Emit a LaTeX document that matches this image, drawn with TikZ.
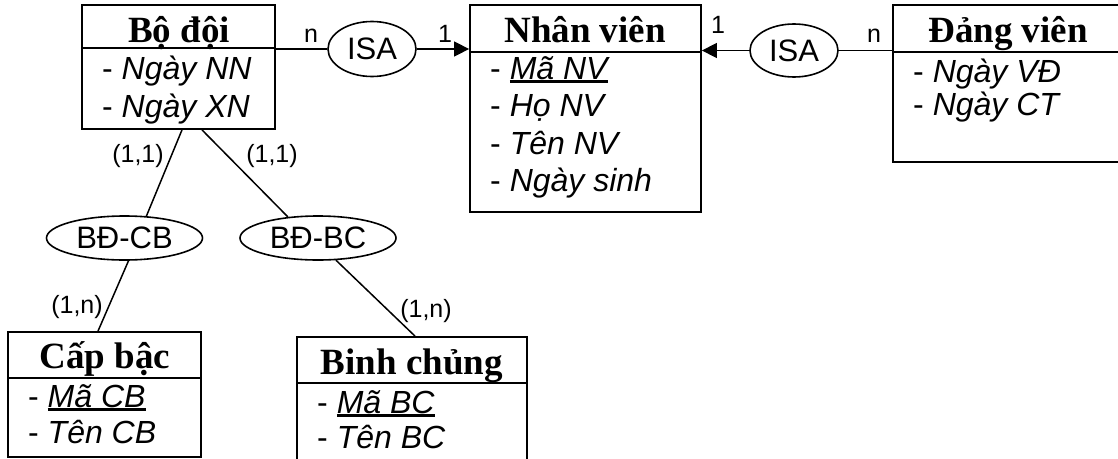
\documentclass[tikz,border=0pt]{standalone}
\usepackage{fontspec}
\setmainfont{Liberation Serif}
\newfontfamily\arialf{Liberation Sans}
\usetikzlibrary{shapes.geometric,arrows.meta,calc}
\newcommand\myul[1]{\setbox0\hbox{#1}\rlap{\rule[-4pt]{\wd0}{2.6pt}}\box0}
\tikzset{
 box/.style={draw, line width=1.8pt, rectangle, inner sep=0pt},
 rel/.style={draw, ellipse, line width=1.6pt, inner sep=0pt, font=\arialf\fontsize{31}{36}\selectfont},
 ttl/.style={font=\bfseries\fontsize{37}{42}\selectfont, inner sep=0pt, anchor=base},
 attr/.style={font=\arialf\fontsize{32}{37}\selectfont, inner sep=0pt, anchor=base west},
 card/.style={font=\arialf\fontsize{25}{30}\selectfont, inner sep=0pt, anchor=base},
 conn/.style={line width=1.5pt},
 tip/.style={-{Triangle[length=15pt,width=15pt]}},
 div/.style={line width=1.8pt}
}
\begin{document}
\begin{tikzpicture}[x=1pt,y=-1pt]
\useasboundingbox (0,0) rectangle (1118,458);
% entity boxes
\node[box, minimum width=193pt, minimum height=124pt] (bd) at (178.5,67) {};
\node[box, minimum width=231pt, minimum height=207pt] (nv) at (585.5,108.5) {};
\node[box, minimum width=231pt, minimum height=157pt] (dv) at (1008.5,83.5) {};
\node[box, minimum width=193pt, minimum height=125pt] (cb) at (104.5,394.5) {};
\node[box, minimum width=230pt, minimum height=133pt] (bc) at (412,403.5) {};
% dividers
\draw[div] (bd.west |- 0,48) -- (bd.east |- 0,48);
\draw[div] (nv.west |- 0,52) -- (nv.east |- 0,52);
\draw[div] (dv.west |- 0,52) -- (dv.east |- 0,52);
\draw[div] (cb.west |- 0,378) -- (cb.east |- 0,378);
\draw[div] (bc.west |- 0,383) -- (bc.east |- 0,383);
% titles
\node[ttl] (bdt) at (179,42) {Bộ đội};
\node[ttl] (nvt) at (585,42) {Nhân viên};
\node[ttl] (dvt) at (1008,42) {Đảng viên};
\node[ttl] (cbt) at (105,368) {Cấp bậc};
\node[ttl] (bct) at (412,374) {Binh chủng};
% attributes
\node[attr] (bda1) at (102,79) {- \textit{Ngày NN}};
\node[attr] (bda2) at (102,117) {- \textit{Ngày XN}};
\node[attr] (nva1) at (490,79) {- \textit{\myul{Mã NV}}};
\node[attr] (nva2) at (490,116) {- \textit{Họ NV}};
\node[attr] (nva3) at (490,154) {- \textit{Tên NV}};
\node[attr] (nva4) at (490,191) {- \textit{Ngày sinh}};
\node[attr] (dva1) at (913,82) {- \textit{Ngày VĐ}};
\node[attr] (dva2) at (913,115) {- \textit{Ngày CT}};
\node[attr] (cba1) at (28,407) {- \textit{\myul{Mã CB}}};
\node[attr] (cba2) at (28,443) {- \textit{Tên CB}};
\node[attr] (bca1) at (317,413) {- \textit{\myul{Mã BC}}};
\node[attr] (bca2) at (317,448) {- \textit{Tên BC}};
% relationships
\node[rel, minimum width=88pt, minimum height=55pt] (isa1) at (372,49) {ISA};
\node[rel, minimum width=88pt, minimum height=53pt] (isa2) at (794,50.5) {ISA};
\node[rel, minimum width=156pt, minimum height=44pt] (bdcb) at (124.5,238) {BĐ-CB};
\node[rel, minimum width=156pt, minimum height=44pt] (bdbc) at (318,238) {BĐ-BC};
% connectors
\draw[conn] (bd.east |- isa1) -- (isa1);
\draw[conn,tip] (isa1) -- (nv.west |- isa1);
\draw[conn] (dv.west |- isa2) -- (isa2);
\draw[conn,tip] (isa2) -- (nv.east |- isa2);
\coordinate (bdL) at ($(bd.south)+(3.5,0)$);
\coordinate (bdR) at ($(bd.south)+(23.5,0)$);
\coordinate (cbT) at ($(cb.north)+(-6.5,0)$);
\coordinate (bcT) at ($(bc.north)+(3,0)$);
\draw[conn] (bdL) -- (bdcb.45);
\draw[conn] (bdR) -- (bdbc.145);
\draw[conn] (bdcb.-80) -- (cbT);
\draw[conn] (bdbc.-51) -- (bcT);
% cardinalities
\node[card] (c1) at (311,42) {n};
\node[card] (c2) at (445,42) {1};
\node[card] (c3) at (718,33) {1};
\node[card] (c4) at (874,42) {n};
\node[card] (c5) at (138,162) {(1,1)};
\node[card] (c6) at (272,162) {(1,1)};
\node[card] (c7) at (77,313) {(1,n)};
\node[card] (c8) at (426,317) {(1,n)};
\end{tikzpicture}
\end{document}
